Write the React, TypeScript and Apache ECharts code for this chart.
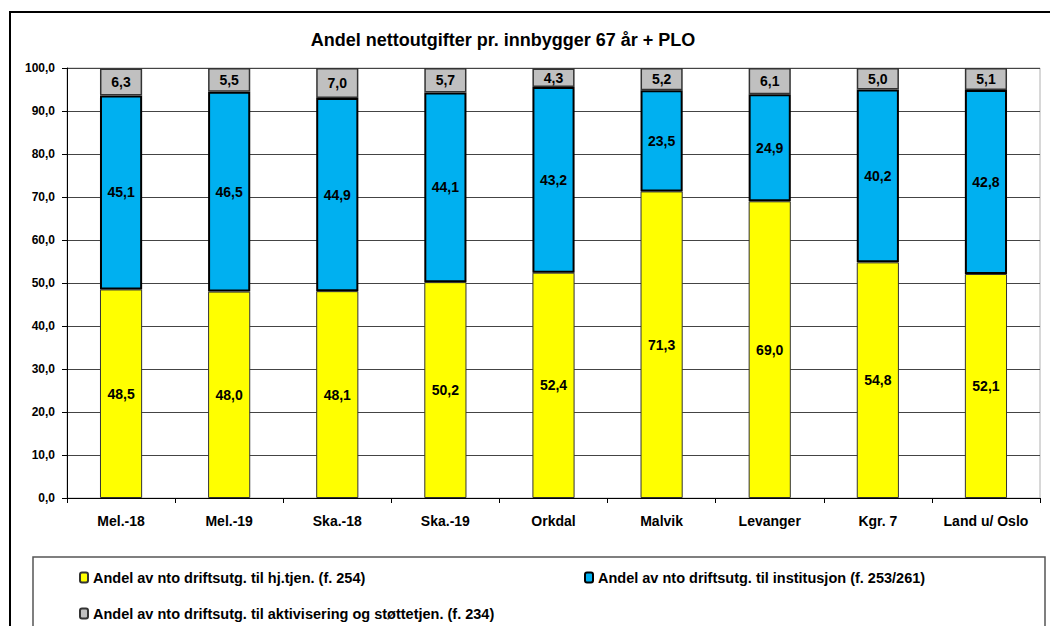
import React, { useEffect, useRef } from "react";
import * as echarts from "echarts";

const categories = ["Mel.-18", "Mel.-19", "Ska.-18", "Ska.-19", "Orkdal", "Malvik", "Levanger", "Kgr. 7", "Land u/ Oslo"];
const hjTjen = [48.5, 48.0, 48.1, 50.2, 52.4, 71.3, 69.0, 54.8, 52.1];
const institusjon = [45.1, 46.5, 44.9, 44.1, 43.2, 23.5, 24.9, 40.2, 42.8];
const aktivisering = [6.3, 5.5, 7.0, 5.7, 4.3, 5.2, 6.1, 5.0, 5.1];
const seriesNames = [
  "Andel av nto driftsutg. til hj.tjen. (f. 254)",
  "Andel av nto driftsutg. til institusjon (f. 253/261)",
  "Andel av nto driftsutg. til aktivisering og støttetjen. (f. 234)",
];
const title = "Andel nettoutgifter pr. innbygger 67 år + PLO";

const FONT = "'Liberation Sans', Arial, sans-serif";
const fmt = (v: number) => v.toFixed(1).replace(".", ",");

export default function App() {
  const ref = useRef<HTMLDivElement>(null);
  useEffect(() => {
    const chart = echarts.init(ref.current!, null, { renderer: "svg" });
    const label = {
      show: true,
      position: "inside" as const,
      color: "#000",
      fontFamily: FONT,
      fontWeight: "bold" as const,
      fontSize: 14,
      formatter: (p: any) => fmt(p.value),
    };
    const legendBase = {
      itemWidth: 8,
      itemHeight: 10,
      itemGap: 4,
      textStyle: { fontFamily: FONT, fontWeight: "bold" as const, fontSize: 14.5, color: "#000" },
      selectedMode: false,
    };
    chart.setOption({
      animation: false,
      backgroundColor: "#fff",
      title: {
        text: title,
        left: 498,
        textAlign: "center",
        top: 26,
        textStyle: { fontFamily: FONT, fontWeight: "bold", fontSize: 18, color: "#000" },
      },
      graphic: [
        { type: "rect", shape: { x: 10, y: 12, width: 1100, height: 700 }, style: { fill: "none", stroke: "#000", lineWidth: 2 }, z: -1 },
        { type: "rect", shape: { x: 33, y: 557, width: 1012, height: 100 }, style: { fill: "none", stroke: "#555", lineWidth: 1.5 }, z: -1 },
      ],
      legend: [
        { ...legendBase, data: [seriesNames[0]], left: 74, top: 565 },
        { ...legendBase, data: [seriesNames[1]], left: 579, top: 565 },
        { ...legendBase, data: [seriesNames[2]], left: 74, top: 601 },
      ],
      grid: { left: 67, right: 10, top: 68, bottom: 128, show: true, borderColor: "#b0b0b0", borderWidth: 1 },
      xAxis: {
        type: "category",
        data: categories,
        axisLine: { lineStyle: { color: "#000", width: 1 } },
        axisTick: { show: true, length: 5, lineStyle: { color: "#000" } },
        axisLabel: { interval: 0, fontFamily: FONT, fontWeight: "bold", fontSize: 14, color: "#000", margin: 16 },
      },
      yAxis: {
        type: "value",
        min: 0,
        max: 100,
        interval: 10,
        axisLine: { show: true, lineStyle: { color: "#000", width: 1 } },
        axisTick: { show: true, length: 5, lineStyle: { color: "#000" } },
        axisLabel: { fontFamily: FONT, fontWeight: "bold", fontSize: 12, color: "#000", margin: 12, formatter: (v: number) => fmt(v) },
        splitLine: { lineStyle: { color: "#444", width: 1 } },
      },
      series: [
        {
          name: seriesNames[0], type: "bar", stack: "a", data: hjTjen, barWidth: "39%",
          itemStyle: { color: "#FFFF00", borderColor: "#333", borderWidth: 1 }, label,
        },
        {
          name: seriesNames[1], type: "bar", stack: "a", data: institusjon,
          itemStyle: { color: "#00B0F0", borderColor: "#000", borderWidth: 2 }, label,
        },
        {
          name: seriesNames[2], type: "bar", stack: "a", data: aktivisering,
          itemStyle: { color: "#C0C0C0", borderColor: "#333", borderWidth: 1.5 }, label,
        },
      ],
    });
    return () => chart.dispose();
  }, []);
  return <div ref={ref} style={{ width: 1050, height: 626, position: "absolute", left: 0, top: 0 }} />;
}
